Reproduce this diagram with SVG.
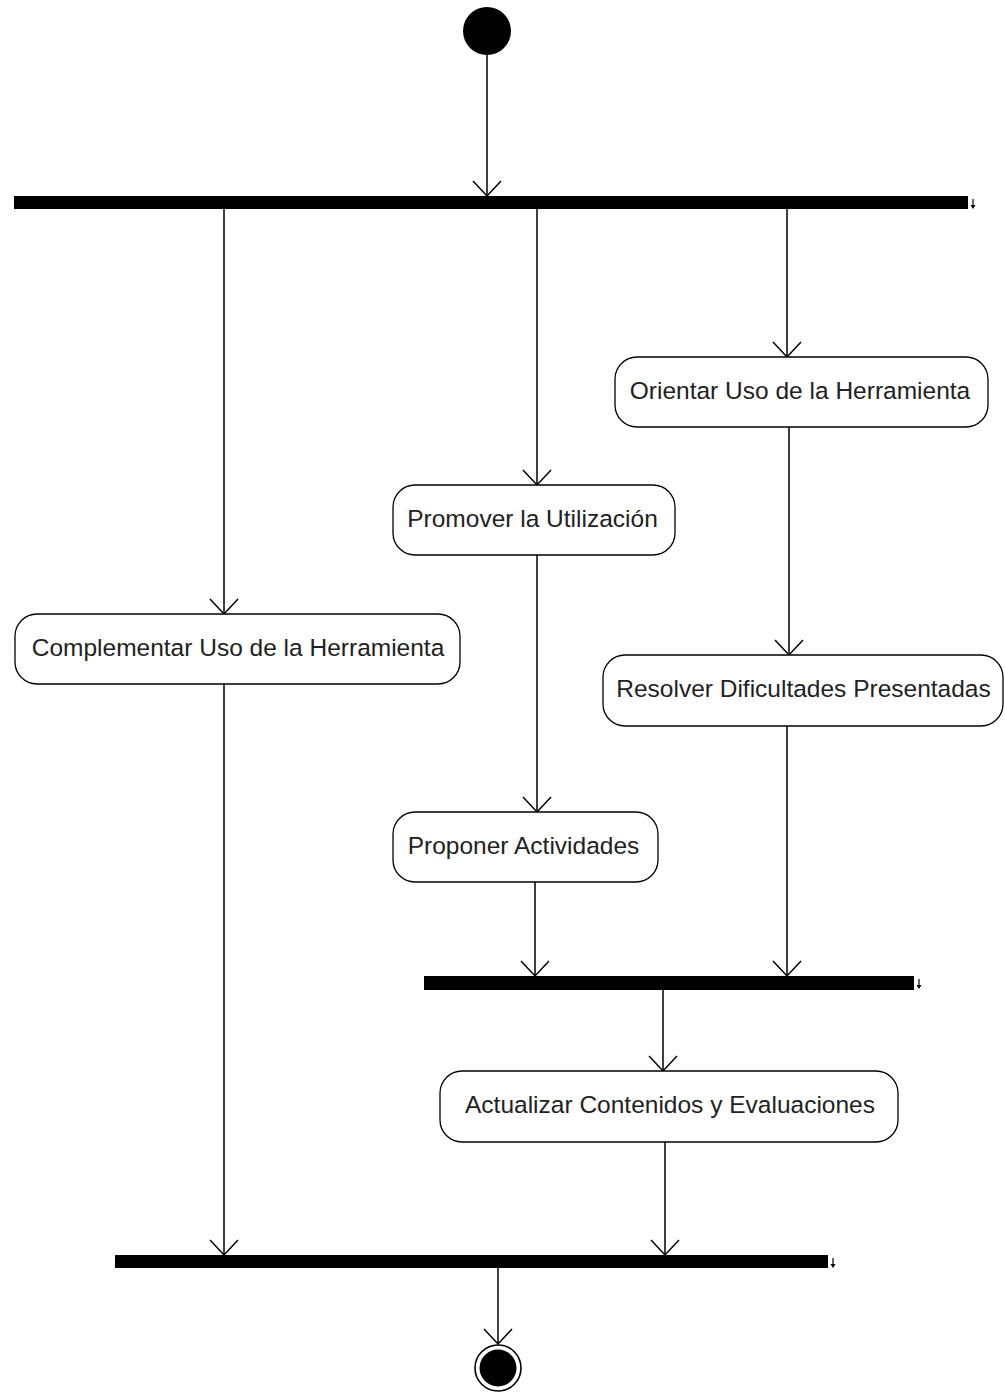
<svg xmlns="http://www.w3.org/2000/svg" width="1005" height="1393" viewBox="0 0 1005 1393">
  <style>
    .act { fill: #ffffff; stroke: #000000; stroke-width: 1.3; }
    .lbl { font-family: "Liberation Sans", Arial, sans-serif; font-size: 24.5px; fill: #222222; text-anchor: middle; }
    .bar { fill: #000000; }
    .flow { stroke: #000000; stroke-width: 1.5; fill: none; marker-end: url(#vhead); }
    .tick { stroke: #000000; stroke-width: 1.2; fill: none; }
  </style>
  <defs>
    <marker id="vhead" markerUnits="userSpaceOnUse" markerWidth="32" markerHeight="32" viewBox="-16 -16 32 32" refX="0" refY="0" orient="auto" overflow="visible">
      <path d="M-15,-14 L0,0 L-15,14" fill="none" stroke="#000000" stroke-width="1.5"/>
    </marker>
    <g id="minidown">
      <line x1="0" y1="0" x2="0" y2="9" stroke="#000000" stroke-width="1.2"/>
      <path d="M-2.5,6 L0,10 L2.5,6 Z" fill="#000000"/>
    </g>
  </defs>

  <rect width="1005" height="1393" fill="#ffffff"/>

  <!-- connectors -->
  <g id="connectors">
    <line class="flow" x1="487" y1="55" x2="487" y2="196"/>
    <line class="flow" x1="224" y1="209" x2="224" y2="614"/>
    <line class="flow" x1="537" y1="209" x2="537" y2="485"/>
    <line class="flow" x1="787" y1="209" x2="787" y2="357"/>
    <line class="flow" x1="789" y1="427" x2="789" y2="655"/>
    <line class="flow" x1="537" y1="555" x2="537" y2="812"/>
    <line class="flow" x1="224" y1="684" x2="224" y2="1255"/>
    <line class="flow" x1="535" y1="882" x2="535" y2="976"/>
    <line class="flow" x1="787" y1="726" x2="787" y2="976"/>
    <line class="flow" x1="663" y1="990" x2="663" y2="1071"/>
    <line class="flow" x1="665" y1="1142" x2="665" y2="1255"/>
    <line class="flow" x1="498" y1="1268" x2="498" y2="1344"/>
  </g>

  <!-- initial node -->
  <g id="start">
    <circle cx="487" cy="31" r="24" fill="#000000"/>
  </g>

  <!-- fork / join bars -->
  <g id="fork1">
    <rect class="bar" x="14" y="196" width="954" height="13"/>
    <use href="#minidown" x="973" y="199"/>
  </g>
  <g id="join1">
    <rect class="bar" x="424" y="976" width="490" height="14"/>
    <use href="#minidown" x="919" y="979"/>
  </g>
  <g id="join2">
    <rect class="bar" x="115" y="1255" width="713" height="13"/>
    <use href="#minidown" x="833" y="1258"/>
  </g>

  <!-- activities -->
  <g id="orientar">
    <rect class="act" x="615" y="357" width="373" height="70" rx="22" ry="22"/>
    <text class="lbl" x="800" y="399">Orientar Uso de la Herramienta</text>
  </g>
  <g id="promover">
    <rect class="act" x="393" y="485" width="282" height="70" rx="22" ry="22"/>
    <text class="lbl" x="532.5" y="527">Promover la Utilización</text>
  </g>
  <g id="complementar">
    <rect class="act" x="15" y="614" width="445" height="70" rx="22" ry="22"/>
    <text class="lbl" x="238" y="656">Complementar Uso de la Herramienta</text>
  </g>
  <g id="resolver">
    <rect class="act" x="603" y="655" width="400" height="71" rx="22" ry="22"/>
    <text class="lbl" x="803.5" y="697">Resolver Dificultades Presentadas</text>
  </g>
  <g id="proponer">
    <rect class="act" x="393" y="812" width="265" height="70" rx="22" ry="22"/>
    <text class="lbl" x="523.5" y="854">Proponer Actividades</text>
  </g>
  <g id="actualizar">
    <rect class="act" x="440" y="1071" width="458" height="71" rx="22" ry="22"/>
    <text class="lbl" x="670" y="1113">Actualizar Contenidos y Evaluaciones</text>
  </g>

  <!-- final node -->
  <g id="end">
    <circle cx="498" cy="1368" r="23" fill="#ffffff" stroke="#000000" stroke-width="1.6"/>
    <circle cx="498" cy="1368" r="18.5" fill="#000000"/>
  </g>
</svg>
